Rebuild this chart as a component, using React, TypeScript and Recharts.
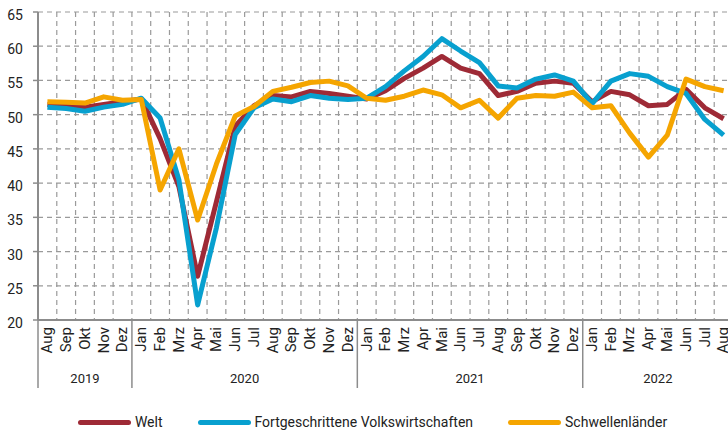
import { LineChart, Line, XAxis, YAxis, CartesianGrid, Legend } from "recharts";

const months = [
  "Aug", "Sep", "Okt", "Nov", "Dez",
  "Jan", "Feb", "Mrz", "Apr", "Mai", "Jun", "Jul", "Aug", "Sep", "Okt", "Nov", "Dez",
  "Jan", "Feb", "Mrz", "Apr", "Mai", "Jun", "Jul", "Aug", "Sep", "Okt", "Nov", "Dez",
  "Jan", "Feb", "Mrz", "Apr", "Mai", "Jun", "Jul", "Aug",
];

const years = ["2019", "2020", "2021", "2022"];

const seriesNames = ["Welt", "Fortgeschrittene Volkswirtschaften", "Schwellenländer"];

const welt = [
  51.5, 51.3, 51.1, 51.5, 51.9,
  52.3, 46.5, 39.5, 26.4, 37.3, 48.3, 51.3, 52.8, 52.6, 53.4, 53.1, 52.7,
  52.3, 53.5, 55.3, 56.8, 58.5, 56.8, 56.0, 52.8, 53.4, 54.6, 54.9, 54.6,
  51.9, 53.4, 52.9, 51.3, 51.5, 53.7, 51.0, 49.4,
];

const fortgeschritten = [
  51.1, 50.9, 50.5, 51.1, 51.5,
  52.4, 49.5, 40.5, 22.2, 33.5, 47.1, 51.0, 52.3, 51.9, 52.8, 52.4, 52.2,
  52.4, 54.1, 56.4, 58.5, 61.1, 59.3, 57.6, 54.2, 53.9, 55.2, 55.8, 54.9,
  51.6, 54.9, 56.0, 55.6, 54.1, 53.1, 49.3, 47.0,
];

const schwellen = [
  51.9, 51.8, 51.7, 52.6, 52.1,
  52.2, 39.0, 45.0, 34.6, 42.8, 49.8, 51.2, 53.4, 54.0, 54.7, 54.9, 54.2,
  52.4, 52.1, 52.7, 53.6, 52.9, 51.0, 52.1, 49.5, 52.4, 52.8, 52.7, 53.3,
  51.0, 51.3, 47.3, 43.8, 47.0, 55.2, 54.1, 53.5,
];

const yTicks = [20, 25, 30, 35, 40, 45, 50, 55, 60, 65];

const data = months.map((m, i) => ({
  idx: i,
  month: m,
  welt: welt[i],
  fort: fortgeschritten[i],
  schwellen: schwellen[i],
}));

const xDomain = [-0.5, months.length - 0.5];

// grenzen zwischen den jahren (vor jedem Januar)
const yearEdges = [
  -0.5,
  ...months.map((m, i) => (m === "Jan" ? i - 0.5 : null)).filter((v) => v !== null),
  months.length - 0.5,
] as number[];
const yearCenters = years.map((_, k) => (yearEdges[k] + yearEdges[k + 1]) / 2);
const yearTicks = [...yearEdges, ...yearCenters].sort((a, b) => a - b);

const gridTicks = months.map((_, i) => i - 0.5).concat(months.length - 0.5);

const AXIS = "#8c8c8c";
const TEXT = "#222";

function MonthTick({ x, y, payload }: any) {
  const ty = y + 7;
  return (
    <text
      x={x}
      y={ty}
      transform={`rotate(-90, ${x}, ${ty})`}
      textAnchor="end"
      dy="0.32em"
      fontSize={15}
      fill={TEXT}
    >
      {months[payload.value]}
    </text>
  );
}

function YearTick({ x, y, payload }: any) {
  if (yearEdges.indexOf(payload.value) >= 0) {
    return <line x1={x} x2={x} y1={y - 48} y2={y + 20} stroke={AXIS} strokeWidth={1.5} />;
  }
  const k = yearCenters.indexOf(payload.value);
  return (
    <text x={x} y={y + 15} textAnchor="middle" fontSize={13} fill={TEXT}>
      {years[k]}
    </text>
  );
}

function LegendContent({ payload }: any) {
  const items = [...(payload || [])].sort(
    (a: any, b: any) => seriesNames.indexOf(a.value) - seriesNames.indexOf(b.value)
  );
  return (
    <div
      style={{
        height: 41,
        boxSizing: "border-box",
        paddingTop: 23,
        display: "flex",
        justifyContent: "center",
        alignItems: "center",
        gap: 35,
      }}
    >
      {items.map((p: any) => (
        <div key={p.value} style={{ display: "flex", alignItems: "center", gap: 4 }}>
          <div style={{ width: 53, height: 5, borderRadius: 3, background: p.color }} />
          <span style={{ fontSize: 14, lineHeight: "18px", color: TEXT }}>{p.value}</span>
        </div>
      ))}
    </div>
  );
}

export default function App() {
  return (
    <div
      style={{
        position: "absolute",
        left: 0,
        top: 0,
        width: 728,
        height: 431,
        overflow: "hidden",
        background: "#fff",
        fontFamily: "Roboto, 'Noto Sans', sans-serif",
      }}
    >
      <LineChart
        width={745}
        height={431}
        data={data}
        margin={{ top: 12, right: 12, bottom: 0, left: 0 }}
      >
        <CartesianGrid
          xAxisId="grid"
          strokeDasharray="5 4"
          stroke="#9a9a9a"
          strokeWidth={1.2}
        />

        <XAxis
          xAxisId="month"
          dataKey="idx"
          type="number"
          domain={xDomain}
          ticks={months.map((_, i) => i)}
          interval={0}
          height={48}
          tickSize={0}
          tickMargin={0}
          tickLine={false}
          axisLine={{ stroke: AXIS, strokeWidth: 2 }}
          tick={(props: any) => <MonthTick {...props} />}
        />
        <XAxis
          xAxisId="year"
          dataKey="idx"
          type="number"
          domain={xDomain}
          ticks={yearTicks}
          interval={0}
          height={22}
          tickSize={0}
          tickMargin={0}
          tickLine={false}
          axisLine={false}
          tick={(props: any) => <YearTick {...props} />}
        />
        <XAxis
          xAxisId="grid"
          dataKey="idx"
          type="number"
          domain={xDomain}
          ticks={gridTicks}
          interval={0}
          height={0}
          hide
        />

        <YAxis
          domain={[20, 65]}
          ticks={yTicks}
          interval={0}
          width={38}
          tickSize={5}
          tickMargin={10}
          axisLine={{ stroke: AXIS, strokeWidth: 2 }}
          tickLine={{ stroke: AXIS, strokeWidth: 1.5 }}
          tick={{ fontSize: 14, fill: TEXT, dy: 3 }}
        />

        <Legend
          verticalAlign="bottom"
          wrapperStyle={{ left: 0, width: 745 }}
          content={(props: any) => <LegendContent {...props} />}
        />

        <Line
          xAxisId="month"
          dataKey="welt"
          name={seriesNames[0]}
          stroke="#9e2a36"
          strokeWidth={5}
          strokeLinejoin="round"
          dot={false}
          isAnimationActive={false}
        />
        <Line
          xAxisId="month"
          dataKey="fort"
          name={seriesNames[1]}
          stroke="#08a0cf"
          strokeWidth={5}
          strokeLinejoin="round"
          dot={false}
          isAnimationActive={false}
        />
        <Line
          xAxisId="month"
          dataKey="schwellen"
          name={seriesNames[2]}
          stroke="#f5a500"
          strokeWidth={5}
          strokeLinejoin="round"
          dot={false}
          isAnimationActive={false}
        />
      </LineChart>
    </div>
  );
}
